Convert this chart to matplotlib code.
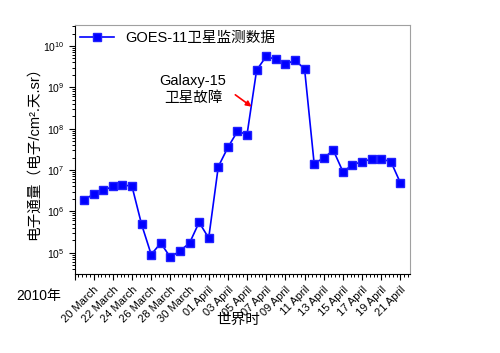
import numpy as np
import pandas as pd
import matplotlib
matplotlib.use('Agg')
import matplotlib.pyplot as plt
import matplotlib.dates as mdates
from matplotlib.ticker import FixedLocator, FixedFormatter, LogLocator, NullFormatter, AutoMinorLocator

# daily GOES-11 electron flux, 19 March - 21 April 2010
dates = pd.date_range('2010-03-19', '2010-04-21', freq='D')
flux = [1.9e6, 2.6e6, 3.2e6, 4.0e6, 4.4e6, 4.0e6, 4.8e5, 9.0e4, 1.7e5, 7.7e4,
        1.1e5, 1.7e5, 5.4e5, 2.25e5, 1.2e7, 3.5e7, 8.6e7, 7.2e7, 2.6e9, 5.6e9,
        4.7e9, 3.6e9, 4.5e9, 2.8e9, 1.43e7, 1.95e7, 3.0e7, 9.1e6, 1.32e7, 1.6e7,
        1.82e7, 1.82e7, 1.6e7, 4.85e6]

# tick dates and labels (first tick at the axis corner has no label)
tick_dates = pd.date_range('2010-03-18', '2010-04-21', freq='2D')
tick_labels = [''] + [d.strftime('%d %B') for d in tick_dates[1:]]

plt.rcParams['font.family'] = ['Liberation Sans', 'Noto Sans CJK SC']
plt.rcParams['mathtext.fontset'] = 'custom'
plt.rcParams['mathtext.rm'] = 'Liberation Sans'
plt.rcParams['mathtext.it'] = 'Liberation Sans'

fig = plt.figure(figsize=(5, 3.53), dpi=100)
ax = fig.add_axes([0.149, 0.224, 0.671, 0.705])

ax.plot(dates, flux, '-s', color='#0000ff', lw=1.2, markersize=5.5,
        markeredgecolor='#2020ff', label='GOES-11卫星监测数据')

ax.set_yscale('log')
ax.set_ylim(3.05e4, 3.2e10)
ax.set_xlim(pd.Timestamp('2010-03-18'), pd.Timestamp('2010-04-22'))

# x ticks
ax.xaxis.set_major_locator(FixedLocator(mdates.date2num(tick_dates)))
ax.xaxis.set_major_formatter(FixedFormatter(tick_labels))
ax.xaxis.set_minor_locator(AutoMinorLocator(5))
plt.setp(ax.get_xticklabels(), rotation=45, ha='right', va='top',
         rotation_mode='anchor', fontsize=8)

# y ticks
ax.yaxis.set_major_locator(LogLocator(base=10, numticks=20))
ax.yaxis.set_minor_locator(LogLocator(base=10, subs=np.arange(2, 10), numticks=20))
ax.yaxis.set_minor_formatter(NullFormatter())
ax.tick_params(axis='y', labelsize=7.5)

ax.tick_params(which='major', direction='out', length=4, width=0.8)
ax.tick_params(which='minor', direction='out', length=2.3, width=0.7)
ax.tick_params(top=False, right=False)

for s in ['top', 'right']:
    ax.spines[s].set_color('#a0a0a0')
for s in ['left', 'bottom']:
    ax.spines[s].set_color('black')

# annotation of Galaxy-15 failure
ax.text(pd.Timestamp('2010-03-30 09:00'), 8.8e8, 'Galaxy-15\n卫星故障',
        ha='center', va='center', fontsize=10.5, linespacing=1.25)
ax.annotate('', xy=(pd.Timestamp('2010-04-05 17:00'), 3.1e8),
            xytext=(pd.Timestamp('2010-04-03 13:00'), 7.2e8),
            arrowprops=dict(arrowstyle='-|>', color='red', lw=1.2, mutation_scale=8))

ax.legend(loc='upper left', frameon=False, fontsize=10.5, handlelength=2.3,
          handletextpad=0.8, borderaxespad=0.1, borderpad=0.3)

fig.text(0.068, 0.577, '电子通量（电子/cm².天.sr）', rotation=90,
         ha='center', va='center', fontsize=10.5)
fig.text(0.078, 0.162, '2010年', ha='center', va='center', fontsize=10)
fig.text(0.476, 0.094, '世界时', ha='center', va='center', fontsize=10.5)

fig.savefig('out.png', dpi=100)
